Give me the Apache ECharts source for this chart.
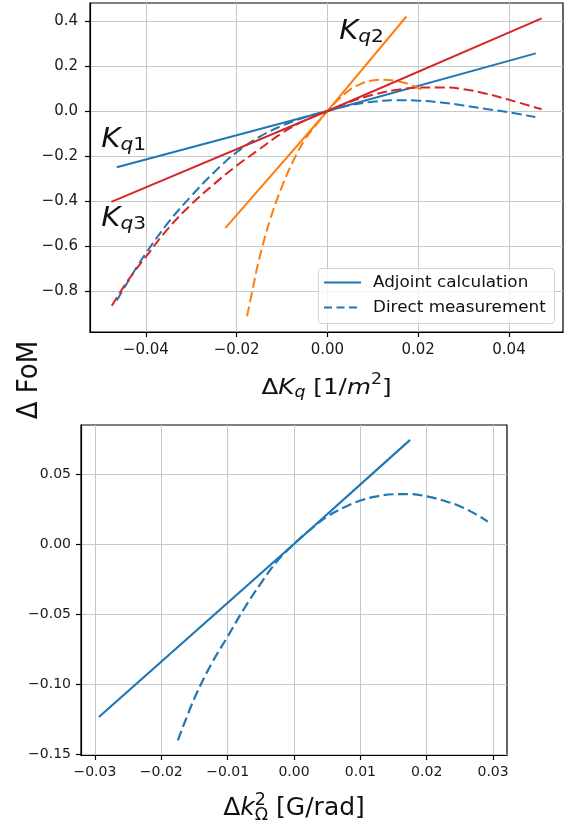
<!DOCTYPE html>
<html>
<head>
<meta charset="utf-8">
<script src="https://cdn.jsdelivr.net/npm/echarts@6/dist/echarts.min.js"></script>
<style>
  html, body { margin: 0; padding: 0; background: #fff; }
  #chart { width: 581px; height: 827px; }
</style>
</head>
<body>
<div id="chart"></div>
<script>
// ---- tick positions ----
const topXTicks = [-0.04, -0.02, 0, 0.02, 0.04];
const topYTicks = [-0.8, -0.6, -0.4, -0.2, 0, 0.2, 0.4];
const botXTicks = [-0.03, -0.02, -0.01, 0, 0.01, 0.02, 0.03];
const botYTicks = [-0.15, -0.10, -0.05, 0, 0.05];

// ---- ΔK_q panel: adjoint (linear) predictions ----
const kq1AdjX = [-0.0464, 0, 0.0459];
const kq1AdjY = [-0.250, 0, 0.256];
const kq2AdjX = [-0.0225, 0, 0.0174];
const kq2AdjY = [-0.520, 0, 0.420];
const kq3AdjX = [-0.0476, 0, 0.0472];
const kq3AdjY = [-0.404, 0, 0.412];

// ---- ΔK_q panel: direct measurements ----
const kq1DirX = [-0.0464, -0.0425, -0.040, -0.035, -0.030, -0.025, -0.020, -0.015, -0.010, -0.005, 0,
                 0.005, 0.010, 0.015, 0.020, 0.025, 0.030, 0.035, 0.040, 0.0458];
const kq1DirY = [-0.842, -0.710, -0.632, -0.494, -0.378, -0.273, -0.183, -0.115, -0.065, -0.028, 0,
                 0.026, 0.041, 0.048, 0.046, 0.038, 0.025, 0.009, -0.006, -0.027];

const kq2DirX = [-0.0177, -0.0165, -0.015, -0.0125, -0.010, -0.0075, -0.005, -0.0025, 0,
                 0.0025, 0.005, 0.0075, 0.010, 0.0125, 0.015, 0.0175, 0.020, 0.0215];
const kq2DirY = [-0.912, -0.795, -0.655, -0.475, -0.335, -0.220, -0.128, -0.062, 0,
                 0.052, 0.095, 0.122, 0.136, 0.139, 0.134, 0.122, 0.102, 0.089];

const kq3DirX = [-0.0475, -0.044, -0.040, -0.035, -0.030, -0.025, -0.020, -0.015, -0.010, -0.005, 0,
                 0.005, 0.010, 0.015, 0.020, 0.025, 0.030, 0.035, 0.040, 0.0472];
const kq3DirY = [-0.865, -0.755, -0.648, -0.520, -0.415, -0.325, -0.243, -0.170, -0.098, -0.042, 0,
                 0.041, 0.072, 0.093, 0.104, 0.105, 0.097, 0.077, 0.050, 0.008];

// ---- Δk²_Ω panel ----
const kOmAdjX = [-0.0294, 0, 0.0175];
const kOmAdjY = [-0.1234, 0, 0.0743];
const kOmDirX = [-0.0175, -0.015, -0.0125, -0.010, -0.0075, -0.005, -0.0025, 0,
                 0.0025, 0.005, 0.0075, 0.010, 0.0125, 0.015, 0.0175, 0.020, 0.0225, 0.025, 0.0275, 0.0292];
const kOmDirY = [-0.140, -0.110, -0.086, -0.066, -0.046, -0.028, -0.012, 0,
                 0.0105, 0.0195, 0.026, 0.031, 0.034, 0.0355, 0.0356, 0.034, 0.031, 0.027, 0.021, 0.016];

// ---- curve labels (anchor = left end of the baseline, in data units) ----
const kqLabelSub = ['1', '2', '3'];
const kqLabelX = [-0.0498, 0.0026, -0.0498];
const kqLabelY = [-0.170, 0.311, -0.522];

const legendNames = ['Adjoint calculation', 'Direct measurement'];

const BLUE = '#1f77b4', ORANGE = '#ff7f0e', RED = '#d62728';
const FONT = 'DejaVu Sans';
const DASH = [10, 4.5];

function pts(xs, ys) { return xs.map((x, i) => [x, ys[i]]); }

function curve(xs, ys, color, dashed, gi, width) {
  return {
    type: 'line', xAxisIndex: gi, yAxisIndex: gi,
    data: pts(xs, ys),
    symbol: 'none', showSymbol: false, silent: true,
    smooth: dashed ? 0.4 : false,
    lineStyle: { color: color, width: width, type: dashed ? DASH : 'solid', cap: 'butt' },
    itemStyle: { color: color },
    emphasis: { disabled: true },
    animation: false
  };
}

function fmt(d) {
  return v => (v < -1e-12 ? '\u2212' : '') + Math.abs(v).toFixed(d);
}

function axisCfg(gi, min, max, ticks, dec, fs, margin) {
  return {
    gridIndex: gi, type: 'value', min: min, max: max,
    axisLine: { show: true, onZero: false, lineStyle: { color: '#000', width: 1.2 } },
    axisTick: { show: true, length: 5, customValues: ticks, lineStyle: { color: '#000', width: 1.2 } },
    axisLabel: { customValues: ticks, formatter: fmt(dec), fontSize: fs, fontFamily: FONT, color: '#1a1a1a', margin: margin },
    splitLine: { show: true, lineStyle: { color: '#c8c8c8', width: 1 } }
  };
}

const chart = echarts.init(document.getElementById('chart'), null, { renderer: 'canvas' });

chart.setOption({
  animation: false,
  backgroundColor: '#fff',
  textStyle: { fontFamily: FONT },
  grid: [
    { left: 90, top: 3, width: 473, height: 329, show: true, borderColor: '#000', borderWidth: 1.2,
      backgroundColor: 'transparent', containLabel: false, outerBoundsMode: 'none' },
    { left: 81, top: 425, width: 426, height: 330, show: true, borderColor: '#000', borderWidth: 1.2,
      backgroundColor: 'transparent', containLabel: false, outerBoundsMode: 'none' }
  ],
  xAxis: [
    axisCfg(0, -0.0523, 0.0519, topXTicks, 2, 15, 11),
    axisCfg(1, -0.0321, 0.0321, botXTicks, 2, 14, 10)
  ],
  yAxis: [
    axisCfg(0, -0.982, 0.48, topYTicks, 1, 15, 12),
    axisCfg(1, -0.1505, 0.0849, botYTicks, 2, 14, 10)
  ],
  series: [
    curve(kq1AdjX, kq1AdjY, BLUE, false, 0, 2),
    curve(kq1DirX, kq1DirY, BLUE, true, 0, 2),
    curve(kq2AdjX, kq2AdjY, ORANGE, false, 0, 2),
    curve(kq2DirX, kq2DirY, ORANGE, true, 0, 2),
    curve(kq3AdjX, kq3AdjY, RED, false, 0, 2),
    curve(kq3DirX, kq3DirY, RED, true, 0, 2),
    curve(kOmAdjX, kOmAdjY, BLUE, false, 1, 2.2),
    curve(kOmDirX, kOmDirY, BLUE, true, 1, 2.2)
  ]
});

// ---- text with sub/superscripts, built from pieces laid out left to right ----
const measureCtx = document.createElement('canvas').getContext('2d');
function pieceFont(p) { return (p.it ? 'italic ' : '') + p.fs + 'px "' + FONT + '"'; }
function pieceWidth(p) { measureCtx.font = pieceFont(p); return measureCtx.measureText(p.t).width; }

function mathText(pieces, x, baseline, anchor, sx) {
  let cursor = 0, prevX = 0, prevW = 0;
  const kids = [];
  pieces.forEach(p => {
    const w = pieceWidth(p);
    let px;
    if (p.stack) { px = prevX; prevW = Math.max(prevW, w); cursor = prevX + prevW; }
    else { px = cursor; prevX = cursor; prevW = w; cursor += w; }
    kids.push({
      type: 'text', x: px, y: (p.dy || 0) - 0.346 * p.fs, silent: true,
      style: {
        text: p.t, fontSize: p.fs, fontStyle: p.it ? 'italic' : 'normal', fontFamily: FONT,
        fill: '#111', align: 'left', verticalAlign: 'middle', textAlign: 'left', textVerticalAlign: 'middle'
      }
    });
  });
  const off = anchor === 'center' ? -cursor / 2 : 0;
  kids.forEach(k => { k.x += off; });
  return { type: 'group', x: x, y: baseline, scaleX: sx || 1, silent: true, children: kids };
}

const SX = 1.12; // horizontal stretch of the upper panel's lettering
const graphics = [];

// curve labels K_q1, K_q2, K_q3
kqLabelSub.forEach((s, i) => {
  const p = chart.convertToPixel({ gridIndex: 0 }, [kqLabelX[i], kqLabelY[i]]);
  graphics.push(mathText([
    { t: 'K', fs: 26, it: true },
    { t: 'q', fs: 18, it: true, dy: 2.5 },
    { t: s, fs: 18, dy: 2.5 }
  ], p[0], p[1], 'left', SX));
});

// x-axis titles
graphics.push(mathText([
  { t: '\u0394', fs: 22 },
  { t: 'K', fs: 22, it: true },
  { t: 'q', fs: 15.5, it: true, dy: 3 },
  { t: ' [1/', fs: 22 },
  { t: 'm', fs: 22, it: true },
  { t: '2', fs: 15.5, dy: -10 },
  { t: ']', fs: 22 }
], 326.5, 395.5, 'center', SX));

graphics.push(mathText([
  { t: '\u0394', fs: 25 },
  { t: 'k', fs: 25, it: true },
  { t: '2', fs: 17.5, dy: -10.5 },
  { t: '\u03A9', fs: 17.5, dy: 5, stack: true },
  { t: ' [G/rad]', fs: 25 }
], 294, 817, 'center', 1));

// shared y-axis title
graphics.push({
  type: 'text', x: 29, y: 380, rotation: Math.PI / 2, scaleY: SX, silent: true,
  style: {
    text: '\u0394 FoM', fontSize: 26, fontFamily: FONT, fill: '#111',
    align: 'center', verticalAlign: 'middle', textAlign: 'center', textVerticalAlign: 'middle'
  }
});

// legend (lower right of the upper panel)
graphics.push({
  type: 'group', silent: true, children: [
    { type: 'rect', shape: { x: 318.5, y: 268.5, width: 236, height: 55, r: 3 },
      style: { fill: 'rgba(255,255,255,0.8)', stroke: '#d4d4d4', lineWidth: 1 } },
    { type: 'line', shape: { x1: 324, y1: 282.5, x2: 361, y2: 282.5 },
      style: { stroke: BLUE, lineWidth: 2 } },
    { type: 'line', shape: { x1: 324, y1: 307.5, x2: 361, y2: 307.5 },
      style: { stroke: BLUE, lineWidth: 2, lineDash: [8, 4.5] } },
    { type: 'text', x: 373, y: 283, scaleX: SX,
      style: { text: legendNames[0], fontSize: 15, fontFamily: FONT, fill: '#111',
               align: 'left', verticalAlign: 'middle', textAlign: 'left', textVerticalAlign: 'middle' } },
    { type: 'text', x: 373, y: 308, scaleX: SX,
      style: { text: legendNames[1], fontSize: 15, fontFamily: FONT, fill: '#111',
               align: 'left', verticalAlign: 'middle', textAlign: 'left', textVerticalAlign: 'middle' } }
  ]
});

chart.setOption({ graphic: graphics });
</script>
</body>
</html>
